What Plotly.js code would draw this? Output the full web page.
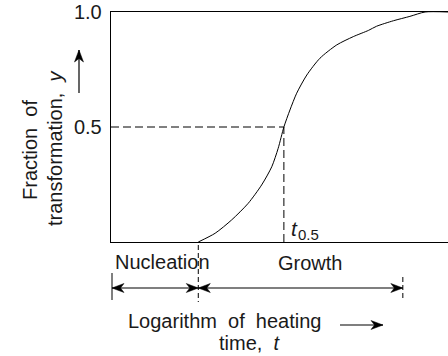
<!DOCTYPE html>
<html>
<head>
<meta charset="utf-8">
<script src="https://cdn.plot.ly/plotly-3.0.1.min.js"></script>
<style>html,body{margin:0;padding:0;background:#fff;}#chart{width:448px;height:356px;}</style>
</head>
<body>
<div id="chart"></div>
<script>
// Sigmoid transformation curve (log time in arbitrary units, fraction transformed)
var logTime = [2.59, 3.09, 3.58, 4.07, 4.47, 4.77, 4.96, 5.13, 5.31, 5.51, 5.81, 6.20, 6.70, 7.19, 7.64, 7.88, 8.38, 8.87, 9.32, 10];
var fraction = [0, 0.038, 0.096, 0.168, 0.248, 0.327, 0.407, 0.500, 0.574, 0.647, 0.726, 0.799, 0.857, 0.893, 0.920, 0.938, 0.962, 0.981, 1.0, 1.0];
var yTickVals = [0.5, 1.0];
var yTickText = ['0.5', '1.0'];
var halfFraction = 0.5;
var tHalf = 5.13;
// phase boundaries along log time
var nucleationStart = 0.03;
var nucleationEnd = 2.59;
var growthEnd = 8.66;
var xRange = [0, 10];
var yRange = [0, 1];

var FONT = 'Liberation Sans, Arial, sans-serif';
var TXT = '#1a1a1a';
var M = {l: 111, r: 0, t: 12, b: 114};
var W = 448, H = 356;
var PW = W - M.l - M.r, PH = H - M.t - M.b;
function pxOfX(x) { return M.l + (x - xRange[0]) / (xRange[1] - xRange[0]) * PW; }
function paperX(px) { return (px - M.l) / PW; }
function paperY(py) { return (M.t + PH - py) / PH; }

// arrow (line + notched filled head) built in pixel space, converted to paper coords
function arrowShapes(x0, y0, x1, y1, heads) {
  var out = [{type: 'line', xref: 'paper', yref: 'paper', x0: paperX(x0), y0: paperY(y0), x1: paperX(x1), y1: paperY(y1), line: {color: '#000', width: 1.2}}];
  function head(tx, ty, fx, fy) {
    var dx = tx - fx, dy = ty - fy, len = Math.sqrt(dx * dx + dy * dy);
    var ux = dx / len, uy = dy / len, nx = -uy, ny = ux;
    var L = 12, Wd = 4.5, N = 8.5;
    var pts = [[tx, ty], [tx - ux * L + nx * Wd, ty - uy * L + ny * Wd], [tx - ux * N, ty - uy * N], [tx - ux * L - nx * Wd, ty - uy * L - ny * Wd]];
    var d = pts.map(function (p, i) { return (i ? 'L' : 'M') + paperX(p[0]).toFixed(5) + ',' + paperY(p[1]).toFixed(5); }).join(' ') + ' Z';
    return {type: 'path', xref: 'paper', yref: 'paper', path: d, fillcolor: '#000', line: {color: '#000', width: 0.5}};
  }
  if (heads.indexOf('end') >= 0) out.push(head(x1, y1, x0, y0));
  if (heads.indexOf('start') >= 0) out.push(head(x0, y0, x1, y1));
  return out;
}

var traces = [
  {x: logTime, y: fraction, mode: 'lines', line: {color: '#000', width: 1, shape: 'spline', smoothing: 0.7}, hoverinfo: 'none'},
  {x: [xRange[0], tHalf], y: [halfFraction, halfFraction], mode: 'lines', line: {color: '#000', width: 1, dash: '8px,4px'}, hoverinfo: 'none'},
  {x: [tHalf, tHalf], y: [yRange[0], halfFraction], mode: 'lines', line: {color: '#000', width: 1, dash: '8px,4px'}, hoverinfo: 'none'}
];

var arrowPy = 288;
var shapes = [
  {type: 'line', xref: 'paper', yref: 'paper', x0: paperX(pxOfX(nucleationStart)), x1: paperX(pxOfX(nucleationStart)), y0: paperY(273), y1: paperY(300), line: {color: '#000', width: 1}},
  {type: 'line', xref: 'paper', yref: 'paper', x0: paperX(pxOfX(nucleationEnd)), x1: paperX(pxOfX(nucleationEnd)), y0: paperY(245), y1: paperY(302), line: {color: '#000', width: 1, dash: '5px,3px'}},
  {type: 'line', xref: 'paper', yref: 'paper', x0: paperX(pxOfX(growthEnd)), x1: paperX(pxOfX(growthEnd)), y0: paperY(277), y1: paperY(300), line: {color: '#000', width: 1, dash: '5px,3px'}}
]
  .concat(arrowShapes(pxOfX(nucleationStart), arrowPy, pxOfX(nucleationEnd), arrowPy, 'start+end'))
  .concat(arrowShapes(pxOfX(nucleationEnd), arrowPy, pxOfX(growthEnd), arrowPy, 'start+end'))
  .concat(arrowShapes(340, 325, 383, 325, 'end'))
  .concat(arrowShapes(79, 93, 79, 50, 'end'));

var tHalfPx = pxOfX(tHalf);

var layout = {
  width: W, height: H,
  margin: M,
  paper_bgcolor: '#fff', plot_bgcolor: '#fff',
  showlegend: false,
  font: {family: FONT, size: 20, color: TXT},
  xaxis: {range: xRange, showline: true, mirror: true, linecolor: '#000', linewidth: 1.3,
          showgrid: false, zeroline: false, showticklabels: false, ticks: ''},
  yaxis: {range: yRange, showline: true, mirror: false, linecolor: '#000', linewidth: 1.3,
          showgrid: false, zeroline: false, ticks: '', tickvals: yTickVals, ticktext: yTickText,
          tickfont: {family: FONT, size: 20, color: TXT}, ticklabelstandoff: 4},
  shapes: shapes,
  annotations: [
    {xref: 'paper', yref: 'paper', x: paperX(162), y: paperY(262), text: 'Nucleation', showarrow: false, xanchor: 'center', yanchor: 'middle'},
    {xref: 'paper', yref: 'paper', x: paperX(310), y: paperY(263), text: 'Growth', showarrow: false, xanchor: 'center', yanchor: 'middle'},
    {xref: 'paper', yref: 'paper', x: paperX(224), y: paperY(321), text: 'Logarithm&nbsp; of&nbsp; heating', showarrow: false, xanchor: 'center', yanchor: 'middle'},
    {xref: 'paper', yref: 'paper', x: paperX(249), y: paperY(343), text: 'time,&nbsp; <i>t</i>', showarrow: false, xanchor: 'center', yanchor: 'middle'},
    {xref: 'paper', yref: 'paper', x: paperX(tHalfPx + 5), y: paperY(228), text: '<i>t</i>', showarrow: false, xanchor: 'left', yanchor: 'middle', font: {family: FONT, size: 21, color: TXT}},
    {xref: 'paper', yref: 'paper', x: paperX(tHalfPx + 12), y: paperY(234), text: '0.5', showarrow: false, xanchor: 'left', yanchor: 'middle', font: {family: FONT, size: 15, color: TXT}},
    {xref: 'paper', yref: 'paper', x: paperX(30), y: paperY(150), text: 'Fraction&nbsp; of', textangle: -90, showarrow: false, xanchor: 'center', yanchor: 'middle'},
    {xref: 'paper', yref: 'paper', x: paperX(55), y: paperY(148), text: 'transformation,&nbsp; <i>y</i>', textangle: -90, showarrow: false, xanchor: 'center', yanchor: 'middle'}
  ]
};

Plotly.newPlot('chart', traces, layout, {staticPlot: true, displayModeBar: false});
</script>
</body>
</html>
